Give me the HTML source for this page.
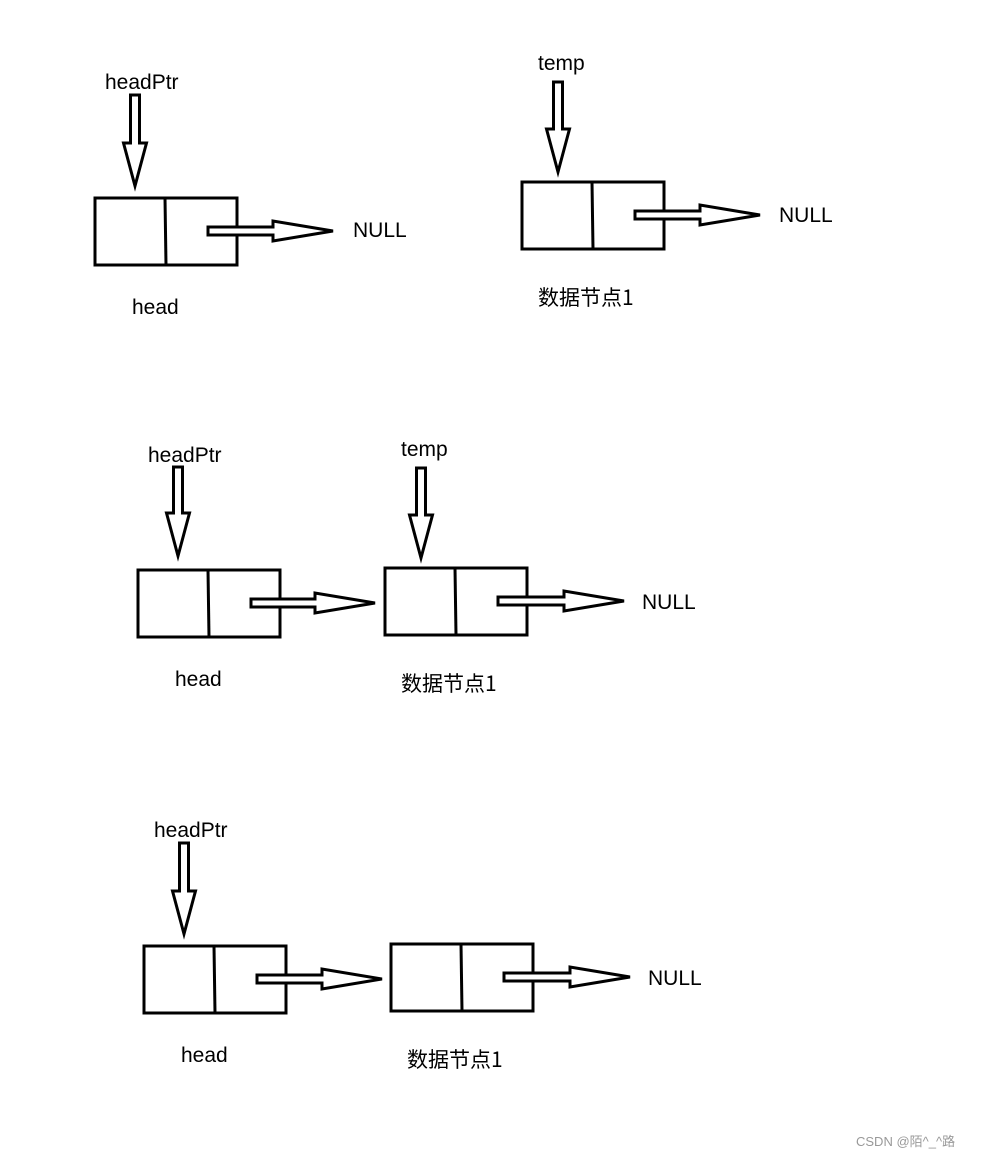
<!DOCTYPE html>
<html><head><meta charset="utf-8"><style>
html,body{margin:0;padding:0;background:#fff}
svg{display:block}
text{font-family:"Liberation Sans","Noto Sans CJK SC",sans-serif;font-size:21px;fill:#000}
.cn{font-family:"Noto Sans CJK SC","WenQuanYi Zen Hei",sans-serif;font-size:21px}
</style></head><body>
<svg width="982" height="1157" viewBox="0 0 982 1157" xmlns="http://www.w3.org/2000/svg">
<g fill="#fff" stroke="#000" stroke-width="3">
<!-- boxes -->
<rect x="95" y="198" width="142" height="67"/><line x1="165" y1="198" x2="166" y2="265"/>
<rect x="522" y="182" width="142" height="67"/><line x1="592" y1="182" x2="593" y2="249"/>
<rect x="138" y="570" width="142" height="67"/><line x1="208" y1="570" x2="209" y2="637"/>
<rect x="385" y="568" width="142" height="67"/><line x1="455" y1="568" x2="456" y2="635"/>
<rect x="144" y="946" width="142" height="67"/><line x1="214" y1="946" x2="215" y2="1013"/>
<rect x="391" y="944" width="142" height="67"/><line x1="461" y1="944" x2="462" y2="1011"/>
<!-- down arrows -->
<polygon points="130.5,95 139.5,95 139.5,143 146.5,143 135,186 123.5,143 130.5,143"/>
<polygon points="553.5,82 562.5,82 562.5,129 569.5,129 558,172 546.5,129 553.5,129"/>
<polygon points="173.5,467 182.5,467 182.5,513 189.5,513 178,556 166.5,513 173.5,513"/>
<polygon points="416.5,468 425.5,468 425.5,515 432.5,515 421,558 409.5,515 416.5,515"/>
<polygon points="179.5,843 188.5,843 188.5,891 195.5,891 184,934 172.5,891 179.5,891"/>
<!-- right arrows -->
<polygon points="208,227 273,227 273,221 333,231 273,241 273,235 208,235"/>
<polygon points="635,211 700,211 700,205 760,215 700,225 700,219 635,219"/>
<polygon points="251,599 315,599 315,593 375,603 315,613 315,607 251,607"/>
<polygon points="498,597 564,597 564,591 624,601 564,611 564,605 498,605"/>
<polygon points="257,975 322,975 322,969 382,979 322,989 322,983 257,983"/>
<polygon points="504,973 570,973 570,967 630,977 570,987 570,981 504,981"/>
</g>
<text x="105" y="89">headPtr</text>
<text x="538" y="70">temp</text>
<text x="353" y="237">NULL</text>
<text x="779" y="222">NULL</text>
<text x="132" y="314">head</text>
<text class="cn" x="538" y="305">数据节点1</text>
<text x="148" y="462">headPtr</text>
<text x="401" y="456">temp</text>
<text x="642" y="609">NULL</text>
<text x="175" y="686">head</text>
<text class="cn" x="401" y="691">数据节点1</text>
<text x="154" y="837">headPtr</text>
<text x="648" y="985">NULL</text>
<text x="181" y="1062">head</text>
<text class="cn" x="407" y="1067">数据节点1</text>
<text x="856" y="1146" style="font-size:13px;fill:#999">CSDN @陌^_^路</text>
</svg>
</body></html>
